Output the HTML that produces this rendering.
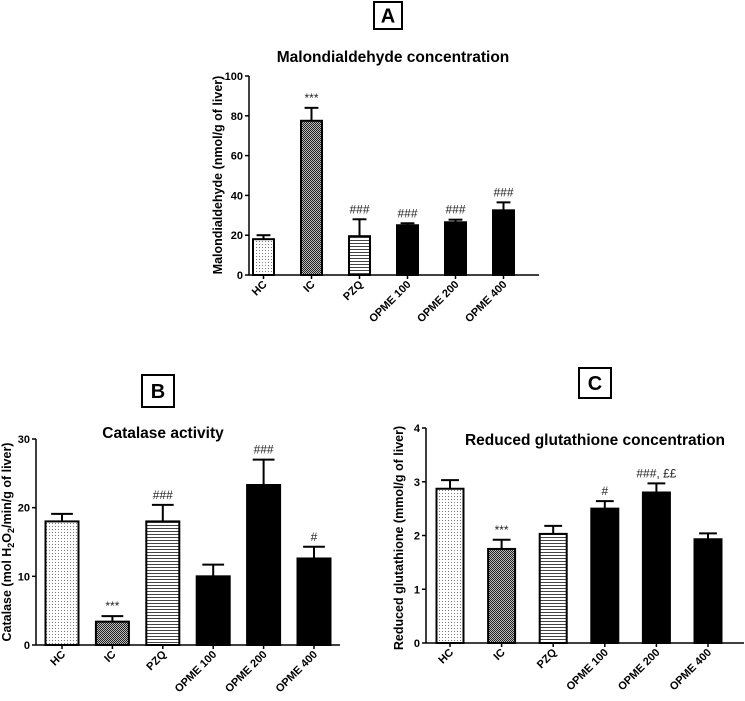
<!DOCTYPE html>
<html><head><meta charset="utf-8">
<style>
html,body{margin:0;padding:0;background:#fff;}
svg{display:block;font-family:"Liberation Sans",Arial,sans-serif;}
</style></head>
<body>
<svg id="fig" width="745" height="701" viewBox="0 0 745 701" xmlns="http://www.w3.org/2000/svg">
<defs>
<pattern id="pDots" width="3" height="3" patternUnits="userSpaceOnUse"><rect width="3" height="3" fill="#fff"/><rect x="1" y="1" width="1" height="1" fill="#777"/></pattern>
<pattern id="pCheck" width="2" height="2" patternUnits="userSpaceOnUse"><rect width="2" height="2" fill="#bbb"/><rect width="1" height="1" fill="#222"/><rect x="1" y="1" width="1" height="1" fill="#222"/></pattern>
<pattern id="pLines" width="4" height="3" patternUnits="userSpaceOnUse"><rect width="4" height="3" fill="#fff"/><rect y="0" width="4" height="1" fill="#444"/></pattern>
</defs>
</svg>
<script>
const categories = ["HC","IC","PZQ","OPME 100","OPME 200","OPME 400"];
const fills = ["url(#pDots)","url(#pCheck)","url(#pLines)","#000","#000","#000"];
const valuesA = [18, 77.5, 19.5, 25, 26.5, 32.5];
const errA = [20, 84, 28, 26, 27.8, 36.5];
const marksA = ["", "***", "###", "###", "###", "###"];
const ticksA = [0,20,40,60,80,100];
const valuesB = [18, 3.4, 18, 10, 23.3, 12.6];
const errB = [19.1, 4.2, 20.4, 11.7, 27, 14.3];
const marksB = ["", "***", "###", "", "###", "#"];
const ticksB = [0,10,20,30];
const valuesC = [2.87, 1.75, 2.03, 2.5, 2.8, 1.93];
const errC = [3.03, 1.92, 2.18, 2.64, 2.97, 2.04];
const marksC = ["", "***", "", "#", "###, ££", ""];
const ticksC = [0,1,2,3,4];

const svg = document.getElementById('fig');
const NS = "http://www.w3.org/2000/svg";
function mk(tag, attrs, parent){
  const e = document.createElementNS(NS, tag);
  for (const k in attrs) e.setAttribute(k, attrs[k]);
  (parent||svg).appendChild(e); return e;
}
function txt(str, attrs, parent){ const t = mk('text', attrs, parent); t.textContent = str; return t; }

function chart(cfg){
  const g = mk('g', {});
  
  
  const yScale = v => cfg.y0 - (v / cfg.max) * (cfg.y0 - cfg.yTop);
  const xCenter = i => cfg.x1 + i * cfg.pitch;
  const box = mk('rect', {x:cfg.box[0], y:cfg.box[1], width:cfg.box[2], height:cfg.box[3], fill:'#fff', stroke:'#000', 'stroke-width':2}, g);
  
  
  const bl = txt(cfg.letter, {x:cfg.box[0]+cfg.box[2]/2, y:cfg.box[1]+cfg.box[3]/2+7, 'text-anchor':'middle', 'font-size':20, 'font-weight':'bold'}, g);
  
  
  const t = txt(cfg.title, {x:cfg.titleX, y:cfg.titleY, 'text-anchor':'middle', 'font-size':15.5, 'font-weight':'bold'}, g);
  
  
  const ya = mk('line', {x1:cfg.ax, y1:cfg.yTop, x2:cfg.ax, y2:cfg.y0, stroke:'#000', 'stroke-width':1.5}, g);
  
  
  cfg.ticks.forEach(v => {
    const y = yScale(v);
    mk('line', {x1:cfg.ax-4, y1:y, x2:cfg.ax, y2:y, stroke:'#000', 'stroke-width':1.5}, g);
    const tl = txt(String(v), {x:cfg.ax-6, y:y+4, 'text-anchor':'end', 'font-size':11, 'font-weight':'bold'}, g);
    
    
  });
  const yl = txt('', {transform:`translate(${cfg.ylX},${cfg.ylY}) rotate(-90)`, 'text-anchor':'middle', 'font-size':12.5, 'font-weight':'bold'}, g);
  yl.innerHTML = cfg.ylabel;
  
  
  cfg.values.forEach((v, i) => {
    const cx = xCenter(i), w = cfg.bw;
    const ye = yScale(cfg.err[i]);
    const yv = yScale(v);
    mk('line', {x1:cx, y1:ye, x2:cx, y2:yv, stroke:'#000', 'stroke-width':2}, g);
    mk('line', {x1:cx-w*0.33, y1:ye, x2:cx+w*0.33, y2:ye, stroke:'#000', 'stroke-width':2}, g);
    const b = mk('rect', {x:cx-w/2, y:yv, width:w, height:cfg.y0-yv, fill:fills[i], stroke:'#000', 'stroke-width':2}, g);
    
    
    if (cfg.marks[i]) {
      const m = txt(cfg.marks[i], {x:cx, y:ye-6, 'text-anchor':'middle', 'font-size':12, fill:'#222'}, g);
      
      
    }
    const xl = txt(categories[i], {transform:`translate(${cx+4},${cfg.y0+10}) rotate(-45)`, 'text-anchor':'end', 'font-size':11, 'font-weight':'bold'}, g);
    
    
  });
  const xa = mk('line', {x1:cfg.ax, y1:cfg.y0, x2:cfg.xEnd, y2:cfg.y0, stroke:'#000', 'stroke-width':1.5}, g);
  
  
  cfg.values.forEach((v,i)=>{ const cx=xCenter(i); mk('line',{x1:cx,y1:cfg.y0,x2:cx,y2:cfg.y0+4,stroke:'#000','stroke-width':1.5},g); });
}

chart({name:'chart-malondialdehyde', letter:'A', box:[374,2,28,27], title:'Malondialdehyde concentration', titleX:393, titleY:62,
  ax:249, yTop:76, y0:275, xEnd:539, max:100, ticks:ticksA, x1:263.5, pitch:48, bw:21,
  values:valuesA, err:errA, marks:marksA, ylX:222, ylY:175, ylabel:'Malondialdehyde (nmol/g of liver)'});
chart({name:'chart-catalase', letter:'B', box:[142,375,32,32], title:'Catalase activity', titleX:163, titleY:438,
  ax:36, yTop:439, y0:645, xEnd:340, max:30, ticks:ticksB, x1:62, pitch:50.4, bw:33,
  values:valuesB, err:errB, marks:marksB, ylX:11, ylY:542, ylabel:'Catalase (mol H<tspan dy="3" font-size="9">2</tspan><tspan dy="-3">O</tspan><tspan dy="3" font-size="9">2</tspan><tspan dy="-3">/min/g of liver)</tspan>'});
chart({name:'chart-glutathione', letter:'C', box:[579,368,32,30], title:'Reduced glutathione concentration', titleX:595, titleY:445,
  ax:426, yTop:428, y0:643, xEnd:744, max:4, ticks:ticksC, x1:450, pitch:51.6, bw:27,
  values:valuesC, err:errC, marks:marksC, ylX:403, ylY:538, ylabel:'Reduced glutathione  (mmol/g of liver)'});
</script>
</body></html>
